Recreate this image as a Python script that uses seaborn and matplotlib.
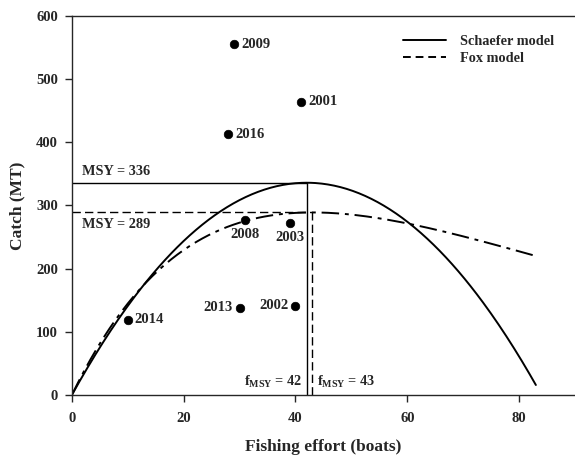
import numpy as np
import pandas as pd
import matplotlib
matplotlib.use("Agg")
import matplotlib.pyplot as plt
import seaborn as sns

# Observed catch and effort by year
years = ["2009", "2016", "2001", "2008", "2003", "2014", "2013", "2002"]
effort = [29, 28, 41, 31, 39, 10, 30, 40]
catch = [555, 413, 464, 277, 273, 119, 138, 141]

# Model reference points
schaefer_msy, schaefer_fmsy = 336, 42
fox_msy, fox_fmsy = 289, 43
f_max = 83

sns.set_style("ticks")
plt.rcParams["font.family"] = ["Liberation Serif", "DejaVu Serif"]
plt.rcParams["font.weight"] = "bold"
plt.rcParams["mathtext.fontset"] = "custom"
plt.rcParams["mathtext.rm"] = "Liberation Serif:bold"
plt.rcParams["mathtext.bf"] = "Liberation Serif:bold"
plt.rcParams["mathtext.it"] = "Liberation Serif:bold"

fig = plt.figure(figsize=(5.75, 4.58), dpi=100)
ax = fig.add_axes([0.125, 0.1376, 0.875, 0.8275])

# Surplus production curves
f = np.linspace(0, f_max, 300)
a = 2 * schaefer_msy / schaefer_fmsy
b = schaefer_msy / schaefer_fmsy ** 2
schaefer = a * f - b * f ** 2
u_inf = fox_msy * np.e / fox_fmsy
fox = f * u_inf * np.exp(-f / fox_fmsy)

curves = pd.DataFrame({
    "effort": np.concatenate([f, f]),
    "catch": np.concatenate([schaefer, fox]),
    "model": ["Schaefer model"] * len(f) + ["Fox model"] * len(f),
})
sns.lineplot(data=curves[curves.model == "Schaefer model"], x="effort", y="catch",
             color="black", lw=1.4, ax=ax)
sns.lineplot(data=curves[curves.model == "Fox model"], x="effort", y="catch",
             color="black", lw=1.4, ax=ax)
ax.lines[-1].set_dashes([9, 3, 2, 3])

# MSY reference lines
ax.plot([0, schaefer_fmsy], [schaefer_msy, schaefer_msy], color="black", lw=1.0)
ax.plot([schaefer_fmsy, schaefer_fmsy], [0, schaefer_msy], color="black", lw=1.0)
ax.plot([0, fox_fmsy], [fox_msy, fox_msy], color="black", lw=1.0, ls=(0, (6, 3)))
ax.plot([fox_fmsy, fox_fmsy], [0, fox_msy], color="black", lw=1.0, ls=(0, (6, 3)))

# Observations
obs = pd.DataFrame({"year": years, "effort": effort, "catch": catch})
sns.scatterplot(data=obs, x="effort", y="catch", color="black", s=38,
                edgecolor="black", ax=ax, legend=False, zorder=5)

offsets = {
    "2009": (5, 0, "left", "center"),
    "2016": (5, 0, "left", "center"),
    "2001": (5, 0, "left", "center"),
    "2014": (5, 0, "left", "center"),
    "2013": (-5, 0, "right", "center"),
    "2002": (-5, 0, "right", "center"),
    "2008": (0, -6, "center", "top"),
    "2003": (0, -6, "center", "top"),
}
for yr, x, y in zip(years, effort, catch):
    dx, dy, ha, va = offsets[yr]
    ax.annotate(yr, (x, y), xytext=(dx, dy), textcoords="offset points",
                ha=ha, va=va, fontsize=10.5, fontweight="bold")

ax.text(1.9, schaefer_msy + 8, f"MSY = {schaefer_msy}", fontsize=10.3,
        fontweight="bold", ha="left", va="bottom")
ax.text(1.9, fox_msy - 9, f"MSY = {fox_msy}", fontsize=10.3,
        fontweight="bold", ha="left", va="top")
ax.text(schaefer_fmsy - 0.8, 8, r"f$_{\mathrm{MSY}}$ = " + str(schaefer_fmsy),
        fontsize=10.3, fontweight="bold", ha="right", va="bottom")
ax.text(fox_fmsy + 0.8, 8, r"f$_{\mathrm{MSY}}$ = " + str(fox_fmsy),
        fontsize=10.3, fontweight="bold", ha="left", va="bottom")

ax.set_xlim(0, 90)
ax.set_ylim(0, 600)
ax.set_xticks([0, 20, 40, 60, 80])
ax.set_yticks([0, 100, 200, 300, 400, 500, 600])
ax.tick_params(direction="out", length=5, width=1, labelsize=10.5)
ax.tick_params(axis="x", pad=7)
ax.tick_params(axis="y", pad=5)
for lab in ax.get_xticklabels() + ax.get_yticklabels():
    lab.set_fontweight("bold")
ax.set_xlabel("Fishing effort (boats)", fontsize=12.5, fontweight="bold", labelpad=10)
ax.set_ylabel("Catch (MT)", fontsize=12.5, fontweight="bold", labelpad=8)
ax.spines["right"].set_visible(False)
for s in ["left", "bottom", "top"]:
    ax.spines[s].set_linewidth(1.0)

handles = [plt.Line2D([], [], color="black", lw=1.4),
           plt.Line2D([], [], color="black", lw=1.4, ls=(0, (4, 2.5)))]
ax.legend(handles, ["Schaefer model", "Fox model"], loc="upper right",
          bbox_to_anchor=(0.985, 0.985), frameon=False,
          handlelength=3.0, handletextpad=1.0, labelspacing=0.3,
          prop={"weight": "bold", "size": 10.3})

fig.savefig("out.png", dpi=100)
